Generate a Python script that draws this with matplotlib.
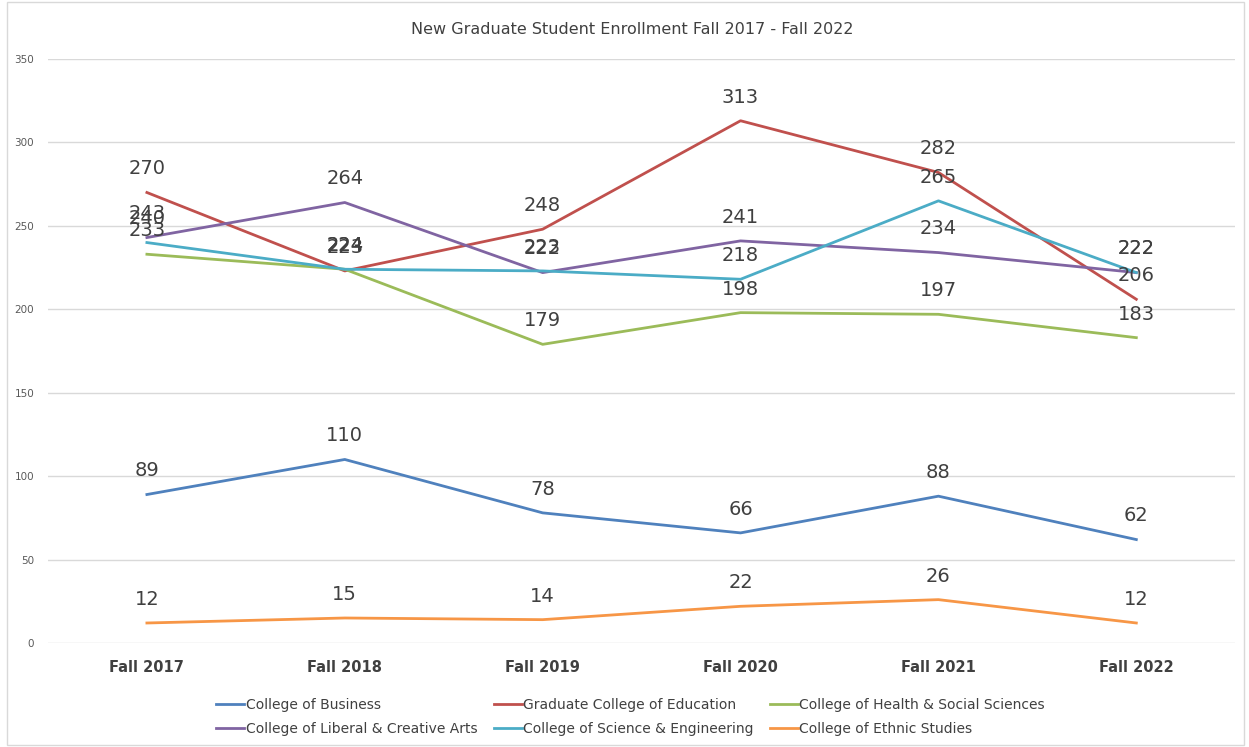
import matplotlib.pyplot as plt
from matplotlib.patches import Rectangle

# data
terms = ['Fall 2017', 'Fall 2018', 'Fall 2019', 'Fall 2020', 'Fall 2021', 'Fall 2022']
business = [89, 110, 78, 66, 88, 62]
education = [270, 223, 248, 313, 282, 206]
health = [233, 224, 179, 198, 197, 183]
liberal = [243, 264, 222, 241, 234, 222]
science = [240, 224, 223, 218, 265, 222]
ethnic = [12, 15, 14, 22, 26, 12]

series = [
	('College of Business', business, '#4F81BD'),
	('Graduate College of Education', education, '#C0504D'),
	('College of Health & Social Sciences', health, '#9BBB59'),
	('College of Liberal & Creative Arts', liberal, '#8064A2'),
	('College of Science & Engineering', science, '#4BACC6'),
	('College of Ethnic Studies', ethnic, '#F79646'),
]

fig = plt.figure(figsize=(12.49, 7.47), dpi=100)
ax = fig.add_axes([0.0384, 0.1392, 0.9506, 0.7818])

x = list(range(len(terms)))
lines = []
for name, vals, col in series:
	ln, = ax.plot(x, vals, color=col, lw=2.0, label=name)
	lines.append(ln)
for name, vals, col in series:
	for xi, v in zip(x, vals):
		ax.annotate(str(v), (xi, v), xytext=(0, 17), textcoords='offset points',
					ha='center', va='center', fontsize=14, color='#404040')

ax.set_xlim(-0.5, 5.5)
ax.set_ylim(0, 350)
ax.set_yticks(range(0, 351, 50))
ax.set_xticks(x)
ax.set_xticklabels(terms, fontsize=10.5, fontweight='bold', color='#404040')
ax.tick_params(axis='y', labelsize=7.5, labelcolor='#595959', length=0, pad=10)
ax.tick_params(axis='x', length=0, pad=12)
ax.grid(axis='y', color='#D9D9D9', lw=1)
ax.set_axisbelow(True)
for s in ax.spines.values():
	s.set_visible(False)

fig.text(0.506, 0.96, 'New Graduate Student Enrollment Fall 2017 - Fall 2022',
		 ha='center', va='center', fontsize=11.5, color='#404040')

# legend is filled column by column, so reorder for row-wise reading
order = [0, 3, 1, 4, 2, 5]
fig.legend([lines[i] for i in order], [series[i][0] for i in order],
		   loc='center', bbox_to_anchor=(0.505, 0.0405), ncol=3, frameon=False,
		   fontsize=10, handlelength=2.0, handletextpad=0.1, columnspacing=1.2,
		   labelspacing=0.75, labelcolor='#404040')

# chart border like the spreadsheet frame
fig.patches.append(Rectangle((0.006, 0.003), 0.99, 0.994, transform=fig.transFigure,
							 fill=False, edgecolor='#D9D9D9', lw=1))

fig.savefig('out.png', dpi=100)
